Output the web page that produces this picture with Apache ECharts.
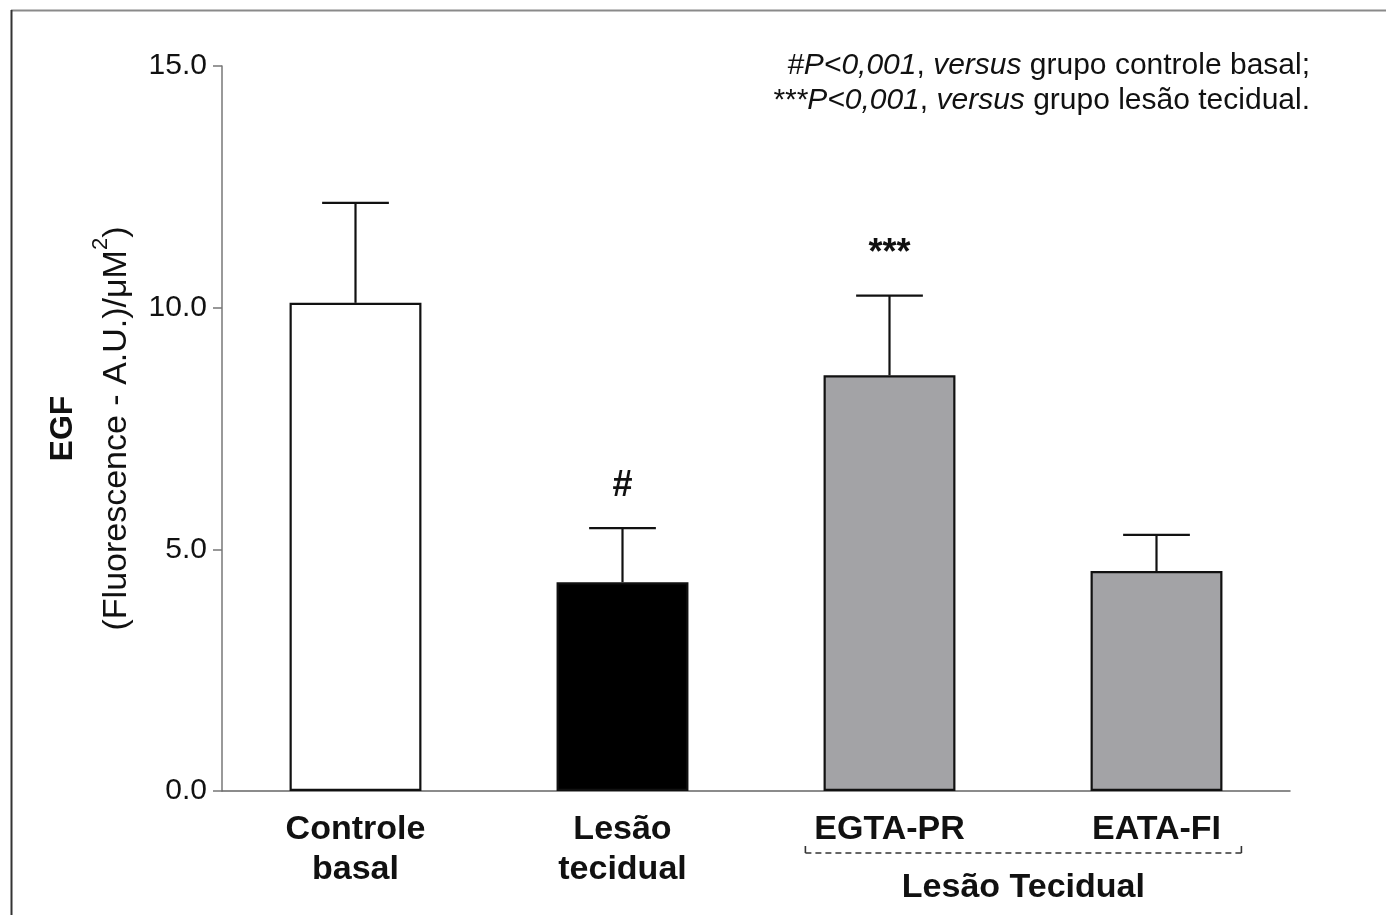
<!DOCTYPE html>
<html>
<head>
<meta charset="utf-8">
<script src="https://cdn.jsdelivr.net/npm/echarts@6/dist/echarts.min.js"></script>
<style>html,body{margin:0;padding:0;background:#fff}#c{width:1386px;height:915px}</style>
</head>
<body>
<div id="c"></div>
<script>
const categories = ['Controle\nbasal', 'Lesão\ntecidual', 'EGTA-PR', 'EATA-FI'];
const means = [10.1, 4.32, 8.6, 4.55];
const sem = [2.07, 1.12, 1.65, 0.75];
const sigMarks = ['', '#', '***', ''];
const barColors = ['#ffffff', '#000000', '#a3a3a6', '#a3a3a6'];
const yTicks = [0, 5, 10, 15];

const FONT = '"Liberation Sans", Arial, sans-serif';
const chart = echarts.init(document.getElementById('c'), null, {renderer: 'canvas'});

const errData = categories.map((c, i) => [i, means[i], means[i] + sem[i], sigMarks[i]]);

const option = {
  animation: false,
  backgroundColor: '#ffffff',
  grid: {left: 222, right: 96, top: 66, bottom: 124, containLabel: false},
  xAxis: {
    type: 'category',
    data: categories,
    boundaryGap: true,
    axisLine: {lineStyle: {color: '#666', width: 1.5}},
    axisTick: {alignWithLabel: true, length: 9, lineStyle: {color: '#666', width: 1.5}},
    axisLabel: {
      interval: 0, margin: 19, color: '#111', fontFamily: FONT, fontWeight: 'bold',
      fontSize: 34, lineHeight: 40
    }
  },
  yAxis: {
    type: 'value',
    min: yTicks[0], max: yTicks[yTicks.length - 1], interval: 5,
    axisLine: {show: true, lineStyle: {color: '#777', width: 1.5}},
    axisTick: {show: true, length: 9, lineStyle: {color: '#777', width: 1.5}},
    splitLine: {show: false},
    axisLabel: {
      margin: 15, color: '#111', fontFamily: FONT, fontSize: 30,
      formatter: v => v.toFixed(1)
    },
    name: '{b|EGF}\n{n|(Fluorescence - A.U.)/μM}{s|2}{n|)}',
    nameLocation: 'middle',
    nameRotate: 90,
    nameGap: 78,
    nameTextStyle: {
      fontFamily: FONT, color: '#111',
      rich: {
        b: {fontFamily: FONT, fontWeight: 'bold', fontSize: 32, lineHeight: 54, color: '#111'},
        n: {fontFamily: FONT, fontSize: 34, lineHeight: 54, color: '#111'},
        s: {fontFamily: FONT, fontSize: 22, lineHeight: 30, verticalAlign: 'top', color: '#111'}
      }
    }
  },
  series: [
    {
      type: 'bar',
      barWidth: '49.4%',
      data: means.map((v, i) => ({value: v, itemStyle: {color: barColors[i]}})),
      itemStyle: {borderColor: '#111', borderWidth: 2.2},
      z: 2
    },
    {
      type: 'custom',
      z: 3,
      data: errData,
      renderItem: function (params, api) {
        const x = api.value(0);
        const pBase = api.coord([x, api.value(1)]);
        const pTop = api.coord([x, api.value(2)]);
        const bw = api.size([1, 0])[0] * 0.125;
        const style = {stroke: '#111', lineWidth: 2.2};
        const children = [
          {type: 'line', shape: {x1: pBase[0], y1: pBase[1], x2: pTop[0], y2: pTop[1]}, style: style},
          {type: 'line', shape: {x1: pTop[0] - bw, y1: pTop[1], x2: pTop[0] + bw, y2: pTop[1]}, style: style}
        ];
        const mark = sigMarks[params.dataIndex];
        if (mark) {
          children.push({
            type: 'text',
            style: {
              text: mark, x: pTop[0], y: pTop[1] - 42,
              align: 'center', verticalAlign: 'middle',
              font: 'bold 36px ' + FONT, fill: '#111'
            }
          });
        }
        return {type: 'group', children: children};
      }
    }
  ]
};
chart.setOption(option);

const c2 = chart.convertToPixel({xAxisIndex: 0}, categories[2]);
const c3 = chart.convertToPixel({xAxisIndex: 0}, categories[3]);
const band = c3 - c2;
const bx1 = c2 - band * 0.315, bx2 = c3 + band * 0.318;
const by = 853;

chart.setOption({
  graphic: [
    {type: 'line', shape: {x1: 11, y1: 10.5, x2: 1386, y2: 10.5}, style: {stroke: '#8a8a8a', lineWidth: 2}},
    {type: 'line', shape: {x1: 11.5, y1: 10, x2: 11.5, y2: 915}, style: {stroke: '#333', lineWidth: 2}},
    {type: 'line', shape: {x1: bx1, y1: by, x2: bx2, y2: by}, style: {stroke: '#333', lineWidth: 1.6, lineDash: [6, 4]}},
    {type: 'line', shape: {x1: bx1, y1: by - 7, x2: bx1, y2: by}, style: {stroke: '#333', lineWidth: 1.6}},
    {type: 'line', shape: {x1: bx2, y1: by - 7, x2: bx2, y2: by}, style: {stroke: '#333', lineWidth: 1.6}},
    {type: 'text', style: {text: 'Lesão Tecidual', x: (bx1 + bx2) / 2, y: 888, align: 'center', verticalAlign: 'middle', font: 'bold 34px ' + FONT, fill: '#111'}},
    {type: 'text', style: {
      text: '{i|#P<0,001}{r|, }{i|versus}{r| grupo controle basal;}\n{i|***P<0,001}{r|, }{i|versus}{r| grupo lesão tecidual.}',
      x: 1310, y: 48, align: 'right', verticalAlign: 'top',
      rich: {
        i: {fontFamily: FONT, fontStyle: 'italic', fontSize: 30, lineHeight: 35, fill: '#111', align: 'right'},
        r: {fontFamily: FONT, fontSize: 30, lineHeight: 35, fill: '#111', align: 'right'}
      }
    }}
  ]
});
</script>
</body>
</html>
